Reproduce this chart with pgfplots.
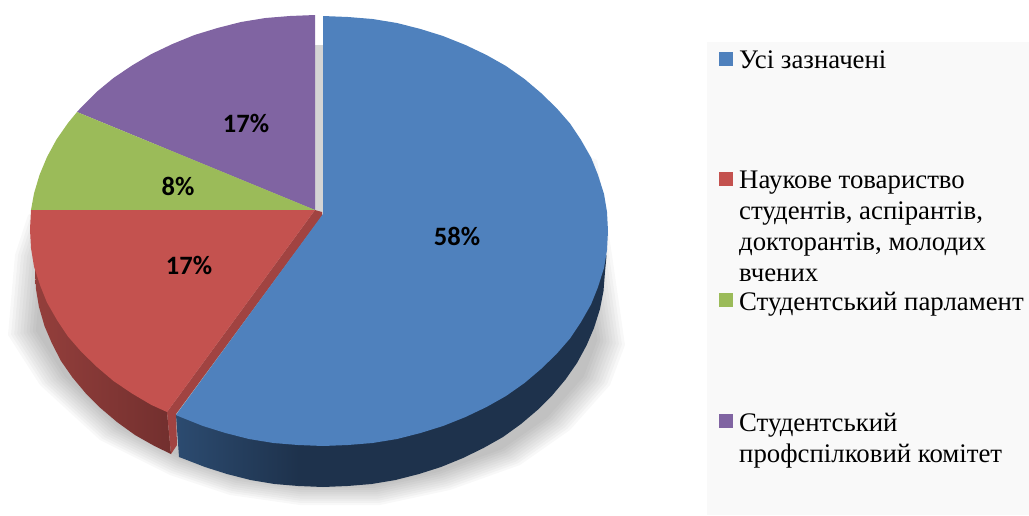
\documentclass[border=0pt]{standalone}
\usepackage{fontspec}
\setmainfont{Liberation Serif}
\newfontfamily\labfont{Carlito}
\usepackage{pgfplots}
\usepackage{pgfplotstable}
\pgfplotsset{compat=1.18}
\definecolor{pieblue}{HTML}{4F81BD}
\definecolor{piered}{HTML}{C4524F}
\definecolor{piegreen}{HTML}{9BBB59}
\definecolor{piepurple}{HTML}{8064A2}
\definecolor{legbg}{HTML}{F9F9F9}
\definecolor{sideblueL}{HTML}{2C4B70}
\definecolor{sideblueR}{HTML}{1E324C}
\definecolor{sideredL}{HTML}{943F3C}
\definecolor{sideredR}{HTML}{6B2C2B}

\pgfplotstableread{
x y
315 45
323 45
597 160
612 255
625 345
610 385
570 430
520 465
450 490
380 505
300 505
230 495
170 475
100 440
40 385
8 335
15 255
28 215
}\shadowtab

\pgfplotstableread{
x y
323 16
348 17
372.5 19
397 23
420.5 29
443 36
465.5 45
486.5 55
506 66
524.5 79
541 93
556.5 108
570 123.5
581 140
591 157.5
598 175
604 194
607 212
608 231
607 250
604 268
598 287
591 304.5
581 322
570 338.5
556.5 354
541 369
524.5 383
506 396
486.5 407
465.5 417
443 426
420.5 433
397 439
372.5 443
348 445
323 446
298 445
273.5 443
249 439
225.5 433
203 426
180.5 417
176 415
323 214
}\bluetop

\pgfplotstableread{
x y
400 300
600 240
606.5 256
605 272
603.5 291
600 309
594 328
586.5 345.5
577 363
565.5 379.5
552.5 395
537.5 410
521 424
503 437
483.5 448
463 458
441 467
419 474
395.5 480
371.5 484
347.5 486
323 487
298.5 486
274 440
}\bluesideR

\pgfplotstableread{
x y
299 440
298.5 486
274.5 484
250.5 480
227 474
205 467
183 458.5
179 457
176 415
}\bluesideL

\pgfplotstableread{
x y
200 300
35 270
36 289
39 307
44.5 326
52 343.5
61 361
72.5 377.5
85.5 393
100.5 408
117 422
135 435
154.5 446
171 454
167 412
}\redside

\pgfplotstableread{
x y
31 210
30 229.5
31 248
34 266.5
40 285
47 302.5
57 320
68 336.5
81.5 352
97 367
113.5 381
132 393.5
151.5 405
167 412
315 210
}\redtop

\pgfplotstableread{
x y
77 112
68 123
56.5 139.5
47 157
39.5 175
34 193.5
31 210
315 210
}\greentop

\pgfplotstableread{
x y
315 15
290 16
265.5 18
241 22
217.5 28
194.5 35
172.5 44
151.5 54
132 65.5
113.5 78
96.5 92
81.5 107
77 112
315 210
}\purpletop

\begin{document}
\begin{tikzpicture}
\begin{axis}[
  scale only axis, width=1029pt, height=515pt,
  xmin=0, xmax=1029, ymin=0, ymax=515, y dir=reverse,
  ticks=none, axis line style={draw=none},
  no markers,
  every axis plot/.append style={draw=none, line width=0pt},
]
% soft shadow under the pie
\pgfplotsinvokeforeach{1.00,0.99,0.98,0.97,0.96,0.95,0.94,0.93,0.92,0.91}{
  \addplot[fill=black, fill opacity=0.028] table[x expr={318+#1*(\thisrow{x}-318)}, y expr={290+#1*(\thisrow{y}-290)}] {\shadowtab};
}
\addplot[fill=black!17] coordinates {(315,45)(323,45)(323,215)(315,212)};
% sides
\addplot[fill=sideblueR] table {\bluesideR};
\addplot[left color=sideblueL, right color=sideblueR] table {\bluesideL};
\addplot[left color=sideredL, right color=sideredR] table {\redside};
\addplot[fill=piered!82!black] coordinates {(315,210)(322,212)(322,216)(176,414)(177,445)(171,454)(167,412)};
% top faces
\addplot[fill=piepurple] table {\purpletop};
\addplot[fill=piegreen] table {\greentop};
\addplot[fill=piered] table {\redtop};
\addplot[fill=pieblue] table {\bluetop};
% legend panel
\addplot[fill=legbg] coordinates {(707,42)(1029,42)(1029,515)(707,515)};
\addplot[fill=pieblue] coordinates {(719,52)(733,52)(733,66)(719,66)};
\addplot[fill=piered] coordinates {(719,172)(733,172)(733,186)(719,186)};
\addplot[fill=piegreen] coordinates {(719,293)(733,293)(733,307)(719,307)};
\addplot[fill=piepurple] coordinates {(719,414)(733,414)(733,428)(719,428)};
% percentage labels
\begin{scope}[every node/.style={font=\labfont\bfseries\fontsize{26.5}{30}\selectfont, inner sep=0pt}]
\node at (axis cs:457,236) {58\%};
\node at (axis cs:246,123) {17\%};
\node at (axis cs:178,186) {8\%};
\node at (axis cs:189,265) {17\%};
\end{scope}
% legend text
\begin{scope}[every node/.style={font=\fontsize{26.8}{30}\selectfont, inner sep=0pt, anchor=base west}]
\node at (axis cs:739,68) {Усі зазначені};
\node at (axis cs:739,188) {Наукове товариство};
\node at (axis cs:739,219) {студентів, аспірантів,};
\node at (axis cs:739,250) {докторантів, молодих};
\node at (axis cs:739,281) {вчених};
\node at (axis cs:739,310) {Студентський парламент};
\node at (axis cs:739,431) {Студентський};
\node at (axis cs:739,462) {профспілковий комітет};
\end{scope}
\end{axis}
\end{tikzpicture}
\end{document}
